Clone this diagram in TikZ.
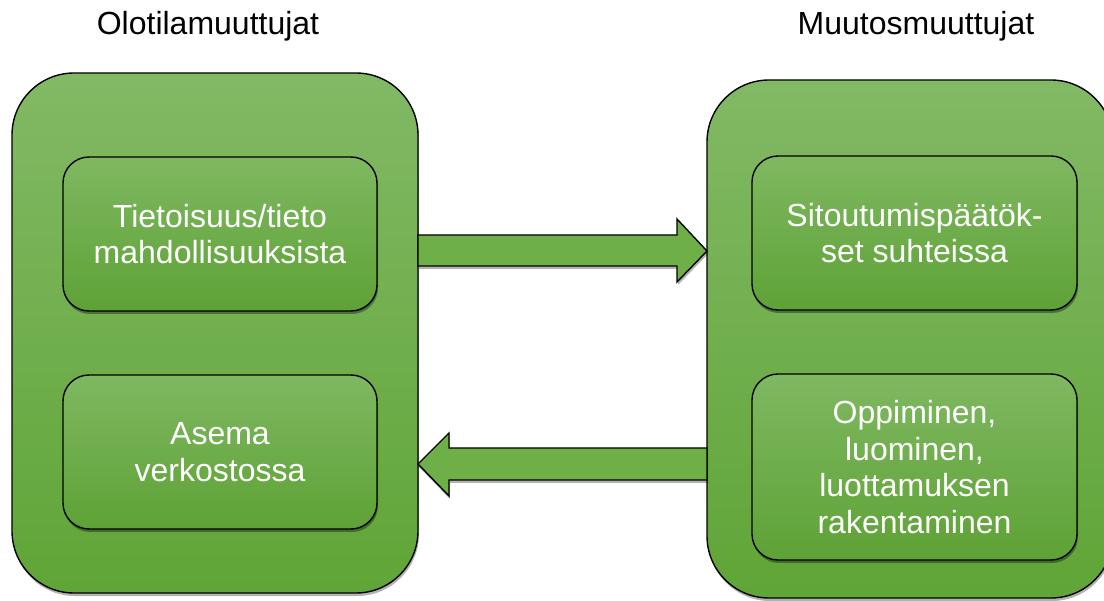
\documentclass[tikz,border=0pt]{standalone}
\usepackage{fontspec}
\setmainfont{Liberation Sans}
\usetikzlibrary{shadows,positioning}
\definecolor{gtop}{HTML}{82B965}
\definecolor{gbot}{HTML}{60A537}
\definecolor{itop}{HTML}{7FB861}
\definecolor{ibot}{HTML}{5EA236}
\definecolor{arr}{HTML}{6FAF47}
\tikzset{
  outerbox/.style={draw=black, line width=1.4pt, rounded corners=62pt, top color=gtop, bottom color=gbot,
    drop shadow={shadow xshift=1pt, shadow yshift=-3pt, opacity=0.3, fill=black}},
  innerbox/.style={draw=black, line width=1.4pt, rounded corners=26pt, top color=itop, bottom color=ibot,
    drop shadow={shadow xshift=1pt, shadow yshift=-3pt, opacity=0.35, fill=black},
    text=white, font=\fontsize{32}{36.8}\selectfont, align=center},
  arrowshape/.style={draw=black, line width=1.4pt, fill=arr, line join=miter,
    drop shadow={shadow xshift=1pt, shadow yshift=-3pt, opacity=0.3, fill=black}},
  title/.style={font=\fontsize{32}{36.8}\selectfont, text=black, anchor=base}
}
\begin{document}
\begin{tikzpicture}[x=1pt,y=-1pt]
\useasboundingbox (0,0) rectangle (1104,601);
% outer boxes
\path[outerbox] (12,73) rectangle (418,593);
\path[outerbox] (707,80) rectangle (1113,598);
% arrows
\path[arrowshape] (418,235) -- (677,235) -- (677,219) -- (707,251) -- (677,282) -- (677,266) -- (418,266) -- cycle;
\path[arrowshape] (707,448) -- (449,448) -- (449,433) -- (418,464) -- (449,496) -- (449,480) -- (707,480) -- cycle;
% inner boxes
\node[innerbox, minimum width=314pt, minimum height=154pt] (a) at (220,234) {Tietoisuus/tieto\\mahdollisuuksista};
\node[innerbox, minimum width=314pt, minimum height=154pt] (b) at (220,452) {Asema\\verkostossa};
\node[innerbox, minimum width=325pt, minimum height=154pt] (c) at (914.5,233) {Sitoutumispäätök-\\set suhteissa};
\node[innerbox, minimum width=325pt, minimum height=186pt] (d) at (914.5,467) {Oppiminen,\\luominen,\\luottamuksen\\rakentaminen};
% titles
\node[title] (t1) at (208,35) {Olotilamuuttujat};
\node[title] (t2) at (916,35) {Muutosmuuttujat};
\end{tikzpicture}
\end{document}
